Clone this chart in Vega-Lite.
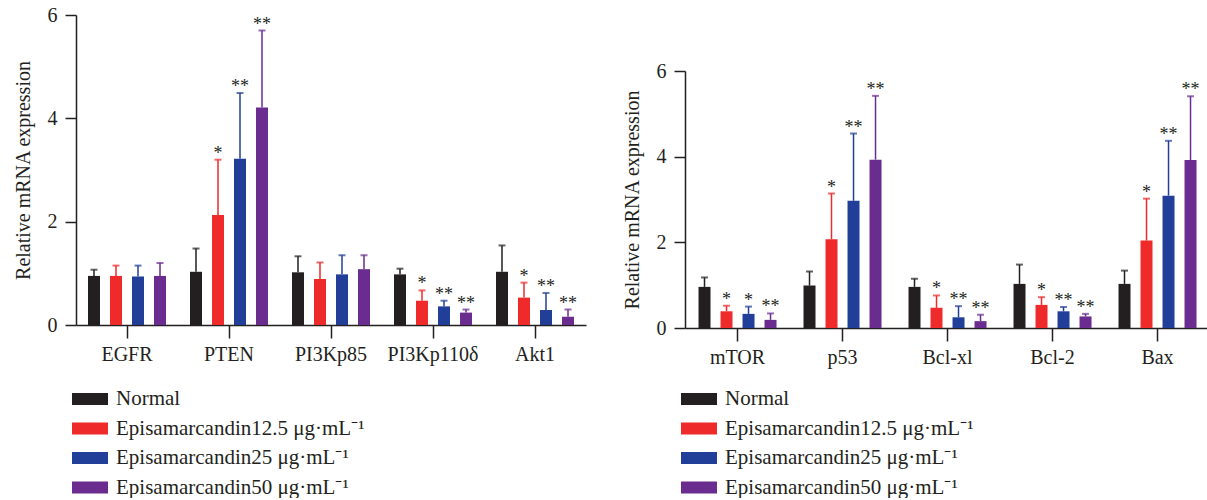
{
  "$schema": "https://vega.github.io/schema/vega-lite/v6.json",
  "background": "white",
  "padding": {"left": 13, "top": 5, "right": 0, "bottom": 0},
  "bounds": "flush",
  "spacing": 99,
  "resolve": {"scale": {"color": "independent"}},
  "config": {
    "view": {"stroke": null},
    "font": "Liberation Serif",
    "axis": {
      "labelFont": "Liberation Serif", "labelFontSize": 20, "labelColor": "#231f20",
      "titleFont": "Liberation Serif", "titleFontSize": 20, "titleColor": "#231f20", "titleFontWeight": "normal",
      "domainColor": "#231f20", "domainWidth": 1.5, "tickColor": "#231f20", "tickWidth": 1.5, "grid": false
    },
    "axisX": {"tickSize": 13, "labelPadding": 6, "labelAngle": 0},
    "axisY": {"tickSize": 11, "labelPadding": 8, "titlePadding": 14},
    "legend": {
      "orient": "none", "legendX": -4, "legendY": 366, "title": null, "padding": 0,
      "symbolType": "M-1,-0.333H1V0.333H-1Z", "symbolSize": 1296, "symbolStrokeWidth": 0, "symbolOpacity": 1,
      "labelFont": "Liberation Serif", "labelFontSize": 21, "labelColor": "#231f20", "labelOffset": 8,
      "rowPadding": 1.5, "labelLimit": 0, "columns": 1
    }
  },
  "datasets": {
    "left": [
      {"gene": "EGFR", "group": "Normal", "value": 0.95, "upper": 1.07, "sig": ""},
      {"gene": "EGFR", "group": "Episamarcandin12.5 μg·mL⁻¹", "value": 0.95, "upper": 1.15, "sig": ""},
      {"gene": "EGFR", "group": "Episamarcandin25 μg·mL⁻¹", "value": 0.94, "upper": 1.15, "sig": ""},
      {"gene": "EGFR", "group": "Episamarcandin50 μg·mL⁻¹", "value": 0.95, "upper": 1.2, "sig": ""},
      {"gene": "PTEN", "group": "Normal", "value": 1.03, "upper": 1.48, "sig": ""},
      {"gene": "PTEN", "group": "Episamarcandin12.5 μg·mL⁻¹", "value": 2.13, "upper": 3.2, "sig": "*"},
      {"gene": "PTEN", "group": "Episamarcandin25 μg·mL⁻¹", "value": 3.22, "upper": 4.49, "sig": "**"},
      {"gene": "PTEN", "group": "Episamarcandin50 μg·mL⁻¹", "value": 4.21, "upper": 5.7, "sig": "**"},
      {"gene": "PI3Kp85", "group": "Normal", "value": 1.02, "upper": 1.33, "sig": ""},
      {"gene": "PI3Kp85", "group": "Episamarcandin12.5 μg·mL⁻¹", "value": 0.89, "upper": 1.21, "sig": ""},
      {"gene": "PI3Kp85", "group": "Episamarcandin25 μg·mL⁻¹", "value": 0.98, "upper": 1.35, "sig": ""},
      {"gene": "PI3Kp85", "group": "Episamarcandin50 μg·mL⁻¹", "value": 1.08, "upper": 1.35, "sig": ""},
      {"gene": "PI3Kp110δ", "group": "Normal", "value": 0.98, "upper": 1.09, "sig": ""},
      {"gene": "PI3Kp110δ", "group": "Episamarcandin12.5 μg·mL⁻¹", "value": 0.47, "upper": 0.67, "sig": "*"},
      {"gene": "PI3Kp110δ", "group": "Episamarcandin25 μg·mL⁻¹", "value": 0.36, "upper": 0.47, "sig": "**"},
      {"gene": "PI3Kp110δ", "group": "Episamarcandin50 μg·mL⁻¹", "value": 0.24, "upper": 0.3, "sig": "**"},
      {"gene": "Akt1", "group": "Normal", "value": 1.03, "upper": 1.54, "sig": ""},
      {"gene": "Akt1", "group": "Episamarcandin12.5 μg·mL⁻¹", "value": 0.53, "upper": 0.82, "sig": "*"},
      {"gene": "Akt1", "group": "Episamarcandin25 μg·mL⁻¹", "value": 0.29, "upper": 0.62, "sig": "**"},
      {"gene": "Akt1", "group": "Episamarcandin50 μg·mL⁻¹", "value": 0.16, "upper": 0.3, "sig": "**"}
    ],
    "right": [
      {"gene": "mTOR", "group": "Normal", "value": 0.96, "upper": 1.18, "sig": ""},
      {"gene": "mTOR", "group": "Episamarcandin12.5 μg·mL⁻¹", "value": 0.39, "upper": 0.52, "sig": "*"},
      {"gene": "mTOR", "group": "Episamarcandin25 μg·mL⁻¹", "value": 0.33, "upper": 0.5, "sig": "*"},
      {"gene": "mTOR", "group": "Episamarcandin50 μg·mL⁻¹", "value": 0.19, "upper": 0.34, "sig": "**"},
      {"gene": "p53", "group": "Normal", "value": 0.99, "upper": 1.32, "sig": ""},
      {"gene": "p53", "group": "Episamarcandin12.5 μg·mL⁻¹", "value": 2.07, "upper": 3.14, "sig": "*"},
      {"gene": "p53", "group": "Episamarcandin25 μg·mL⁻¹", "value": 2.97, "upper": 4.54, "sig": "**"},
      {"gene": "p53", "group": "Episamarcandin50 μg·mL⁻¹", "value": 3.93, "upper": 5.42, "sig": "**"},
      {"gene": "Bcl-xl", "group": "Normal", "value": 0.96, "upper": 1.15, "sig": ""},
      {"gene": "Bcl-xl", "group": "Episamarcandin12.5 μg·mL⁻¹", "value": 0.47, "upper": 0.76, "sig": "*"},
      {"gene": "Bcl-xl", "group": "Episamarcandin25 μg·mL⁻¹", "value": 0.25, "upper": 0.51, "sig": "**"},
      {"gene": "Bcl-xl", "group": "Episamarcandin50 μg·mL⁻¹", "value": 0.16, "upper": 0.31, "sig": "**"},
      {"gene": "Bcl-2", "group": "Normal", "value": 1.03, "upper": 1.48, "sig": ""},
      {"gene": "Bcl-2", "group": "Episamarcandin12.5 μg·mL⁻¹", "value": 0.54, "upper": 0.72, "sig": "*"},
      {"gene": "Bcl-2", "group": "Episamarcandin25 μg·mL⁻¹", "value": 0.39, "upper": 0.49, "sig": "**"},
      {"gene": "Bcl-2", "group": "Episamarcandin50 μg·mL⁻¹", "value": 0.27, "upper": 0.33, "sig": "**"},
      {"gene": "Bax", "group": "Normal", "value": 1.03, "upper": 1.34, "sig": ""},
      {"gene": "Bax", "group": "Episamarcandin12.5 μg·mL⁻¹", "value": 2.04, "upper": 3.02, "sig": "*"},
      {"gene": "Bax", "group": "Episamarcandin25 μg·mL⁻¹", "value": 3.09, "upper": 4.37, "sig": "**"},
      {"gene": "Bax", "group": "Episamarcandin50 μg·mL⁻¹", "value": 3.92, "upper": 5.41, "sig": "**"}
    ]
  },
  "hconcat": [
    {
      "width": 510, "height": 310,
      "data": {"name": "left"},
      "encoding": {
        "x": {"field": "gene", "type": "nominal", "sort": null, "title": null,
              "scale": {"paddingInner": 0.137, "paddingOuter": 0.0685}},
        "xOffset": {"field": "group", "type": "nominal", "sort": null,
                    "scale": {"domain": ["Normal", "Episamarcandin12.5 μg·mL⁻¹", "Episamarcandin25 μg·mL⁻¹", "Episamarcandin50 μg·mL⁻¹"], "paddingInner": 0.455, "paddingOuter": 0.2275}},
        "color": {"field": "group", "type": "nominal",
                  "scale": {"domain": ["Normal", "Episamarcandin12.5 μg·mL⁻¹", "Episamarcandin25 μg·mL⁻¹", "Episamarcandin50 μg·mL⁻¹"],
                            "range": ["#231f20", "#ee2a2b", "#213f98", "#6a2c8e"]}}
      },
      "layer": [
        {"mark": {"type": "rule", "strokeWidth": 1.5},
         "encoding": {"y": {"field": "value", "type": "quantitative", "title": "Relative mRNA expression",
                            "scale": {"domain": [0, 6], "nice": false}, "axis": {"values": [0, 2, 4, 6]}},
                      "y2": {"field": "upper"}}},
        {"mark": {"type": "bar"},
         "encoding": {"y": {"field": "value", "type": "quantitative", "title": "Relative mRNA expression"}}},
        {"mark": {"type": "tick", "thickness": 2, "size": 7},
         "encoding": {"y": {"field": "upper", "type": "quantitative", "title": "Relative mRNA expression"}}},
        {"transform": [{"filter": "datum.sig != ''"}],
         "mark": {"type": "text", "font": "Liberation Serif", "fontSize": 18, "baseline": "alphabetic", "dy": -1},
         "encoding": {"y": {"field": "upper", "type": "quantitative", "title": "Relative mRNA expression"},
                      "text": {"field": "sig"}, "color": {"value": "#231f20"}}}
      ]
    },
    {
      "width": 525, "height": 313,
      "data": {"name": "right"},
      "encoding": {
        "x": {"field": "gene", "type": "nominal", "sort": null, "title": null,
              "scale": {"paddingInner": 0.162, "paddingOuter": 0.081}},
        "xOffset": {"field": "group", "type": "nominal", "sort": null,
                    "scale": {"domain": ["Normal", "Episamarcandin12.5 μg·mL⁻¹", "Episamarcandin25 μg·mL⁻¹", "Episamarcandin50 μg·mL⁻¹"], "paddingInner": 0.455, "paddingOuter": 0.2275}},
        "color": {"field": "group", "type": "nominal",
                  "scale": {"domain": ["Normal", "Episamarcandin12.5 μg·mL⁻¹", "Episamarcandin25 μg·mL⁻¹", "Episamarcandin50 μg·mL⁻¹"],
                            "range": ["#231f20", "#ee2a2b", "#213f98", "#6a2c8e"]}}
      },
      "layer": [
        {"mark": {"type": "rule", "strokeWidth": 1.5},
         "encoding": {"y": {"field": "value", "type": "quantitative", "title": "Relative mRNA expression",
                            "scale": {"domain": [0, 6], "nice": false, "range": [313, 56]}, "axis": {"values": [0, 2, 4, 6]}},
                      "y2": {"field": "upper"}}},
        {"mark": {"type": "bar"},
         "encoding": {"y": {"field": "value", "type": "quantitative", "title": "Relative mRNA expression"}}},
        {"mark": {"type": "tick", "thickness": 2, "size": 7},
         "encoding": {"y": {"field": "upper", "type": "quantitative", "title": "Relative mRNA expression"}}},
        {"transform": [{"filter": "datum.sig != ''"}],
         "mark": {"type": "text", "font": "Liberation Serif", "fontSize": 18, "baseline": "alphabetic", "dy": -1},
         "encoding": {"y": {"field": "upper", "type": "quantitative", "title": "Relative mRNA expression"},
                      "text": {"field": "sig"}, "color": {"value": "#231f20"}}}
      ]
    }
  ]
}
